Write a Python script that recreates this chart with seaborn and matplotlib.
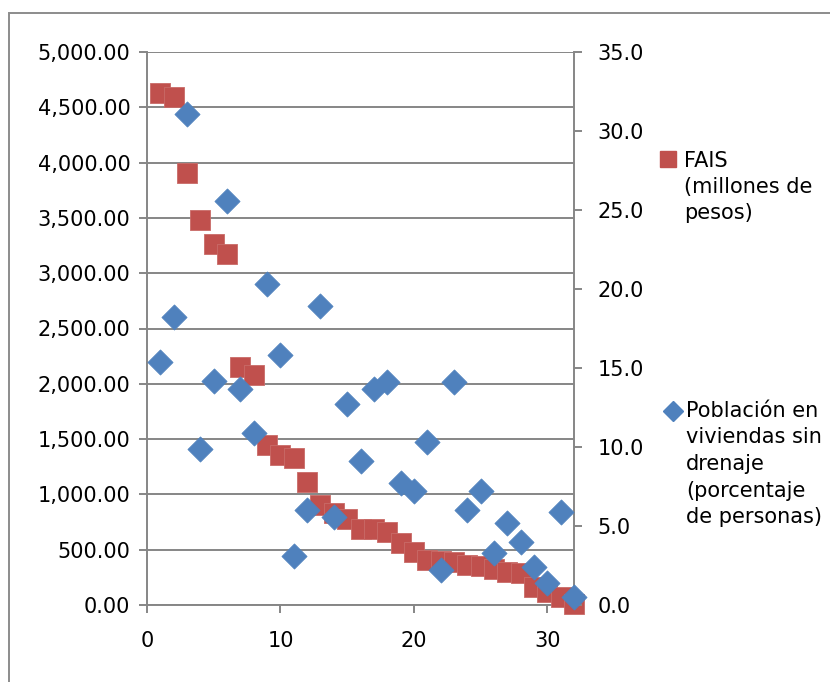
import matplotlib
matplotlib.use("Agg")
import matplotlib.pyplot as plt
import seaborn as sns
import pandas as pd
from matplotlib.lines import Line2D
from matplotlib.patches import Rectangle
from matplotlib.ticker import FuncFormatter, FixedLocator

# ---------------- data ----------------
x_index = list(range(1, 33))
fais = [4630, 4590, 3910, 3480, 3260, 3170, 2150, 2080, 1450, 1360,
        1330, 1110, 900, 830, 780, 690, 690, 660, 560, 480,
        410, 400, 390, 360, 350, 330, 300, 290, 160, 120, 70, 10]
drenaje = [15.4, 18.2, 31.1, 9.9, 14.2, 25.6, 13.7, 10.9, 20.3, 15.8,
           3.1, 6.0, 18.9, 5.6, 12.7, 9.1, 13.7, 14.1, 7.7, 7.2,
           10.3, 2.2, 14.1, 6.0, 7.2, 3.3, 5.2, 4.0, 2.4, 1.4, 5.9, 0.5]
left_ticks = [0, 500, 1000, 1500, 2000, 2500, 3000, 3500, 4000, 4500, 5000]
right_ticks = [0, 5, 10, 15, 20, 25, 30, 35]
x_ticks = [0, 10, 20, 30]
fais_label = "FAIS\n(millones de\npesos)"
dren_label = "Población en\nviviendas sin\ndrenaje\n(porcentaje\nde personas)"

RED = "#C0504D"
BLUE = "#4F81BD"
GRAY = "#868686"

sns.set_style("white")
plt.rcParams['font.family'] = ['DejaVu Sans']
plt.rcParams['text.color'] = 'black'

W, H = 830, 682
fig = plt.figure(figsize=(W / 100, H / 100), dpi=100)
ax = fig.add_axes([147 / W, (H - 605) / H, (574 - 147) / W, 553 / H])

df = pd.DataFrame({"x": x_index, "fais": fais, "dren": drenaje})

sns.scatterplot(data=df, x="x", y="fais", marker="s", s=207, color=RED,
                edgecolor="#C96B68", linewidth=0.6, ax=ax, legend=False,
                clip_on=False, zorder=3)
ax2 = ax.twinx()
sns.scatterplot(data=df, x="x", y="dren", marker="D", s=165, color=BLUE,
                edgecolor=BLUE, linewidth=0.5, ax=ax2, legend=False,
                clip_on=False, zorder=3)

ax.set_xlim(0, 32)
ax.set_ylim(0, 5000)
ax2.set_ylim(0, 35)
ax.set_xlabel("")
ax.set_ylabel("")
ax2.set_ylabel("")

ax.yaxis.set_major_locator(FixedLocator(left_ticks))
ax2.yaxis.set_major_locator(FixedLocator(right_ticks))
ax.xaxis.set_major_locator(FixedLocator(x_ticks))
ax.yaxis.set_major_formatter(FuncFormatter(lambda v, p: f"{v:,.2f}"))
ax2.yaxis.set_major_formatter(FuncFormatter(lambda v, p: f"{v:.1f}"))
ax.xaxis.set_major_formatter(FuncFormatter(lambda v, p: f"{int(v)}"))

ax.set_axisbelow(True)
ax.yaxis.grid(True, color=GRAY, linewidth=1.4)
ax.xaxis.grid(False)
ax2.grid(False)

for s in ["top", "right"]:
    ax.spines[s].set_visible(False)
for s in ["top", "left", "bottom"]:
    ax2.spines[s].set_visible(False)
for s in ["left", "bottom"]:
    ax.spines[s].set_color(GRAY)
    ax.spines[s].set_linewidth(1.4)
ax2.spines["right"].set_color(GRAY)
ax2.spines["right"].set_linewidth(1.4)

ax.tick_params(axis="y", left=True, direction="out", length=6, width=1.4,
               color=GRAY, labelsize=15, pad=6, labelcolor="black")
ax.tick_params(axis="x", bottom=True, direction="out", length=6, width=1.4,
               color=GRAY, labelsize=15, pad=13, labelcolor="black")
ax2.tick_params(axis="y", right=True, direction="out", length=6, width=1.4,
                color=GRAY, labelsize=15, pad=11, labelcolor="black")

# outer chart frame
fig.add_artist(Rectangle((9 / W, -0.5), 2, (H - 13) / H + 0.5,
                         transform=fig.transFigure, fill=False,
                         edgecolor="#8C8C8C", linewidth=1.4))

# legend (Excel-style, drawn in figure pixels)
fig.add_artist(Line2D([668 / W], [1 - 159 / H], marker="s", markersize=11.5,
                      color=RED, linestyle="none", transform=fig.transFigure))
fig.text(684 / W, 1 - 187 / H, fais_label, ha="left", va="center",
         fontsize=15, linespacing=1.36, color="black")
fig.add_artist(Line2D([673 / W], [1 - 411 / H], marker="D", markersize=10,
                      color=BLUE, linestyle="none", transform=fig.transFigure))
fig.text(686 / W, 1 - 464 / H, dren_label, ha="left", va="center",
         fontsize=15, linespacing=1.42, color="black")

fig.savefig("out.png", dpi=100)
